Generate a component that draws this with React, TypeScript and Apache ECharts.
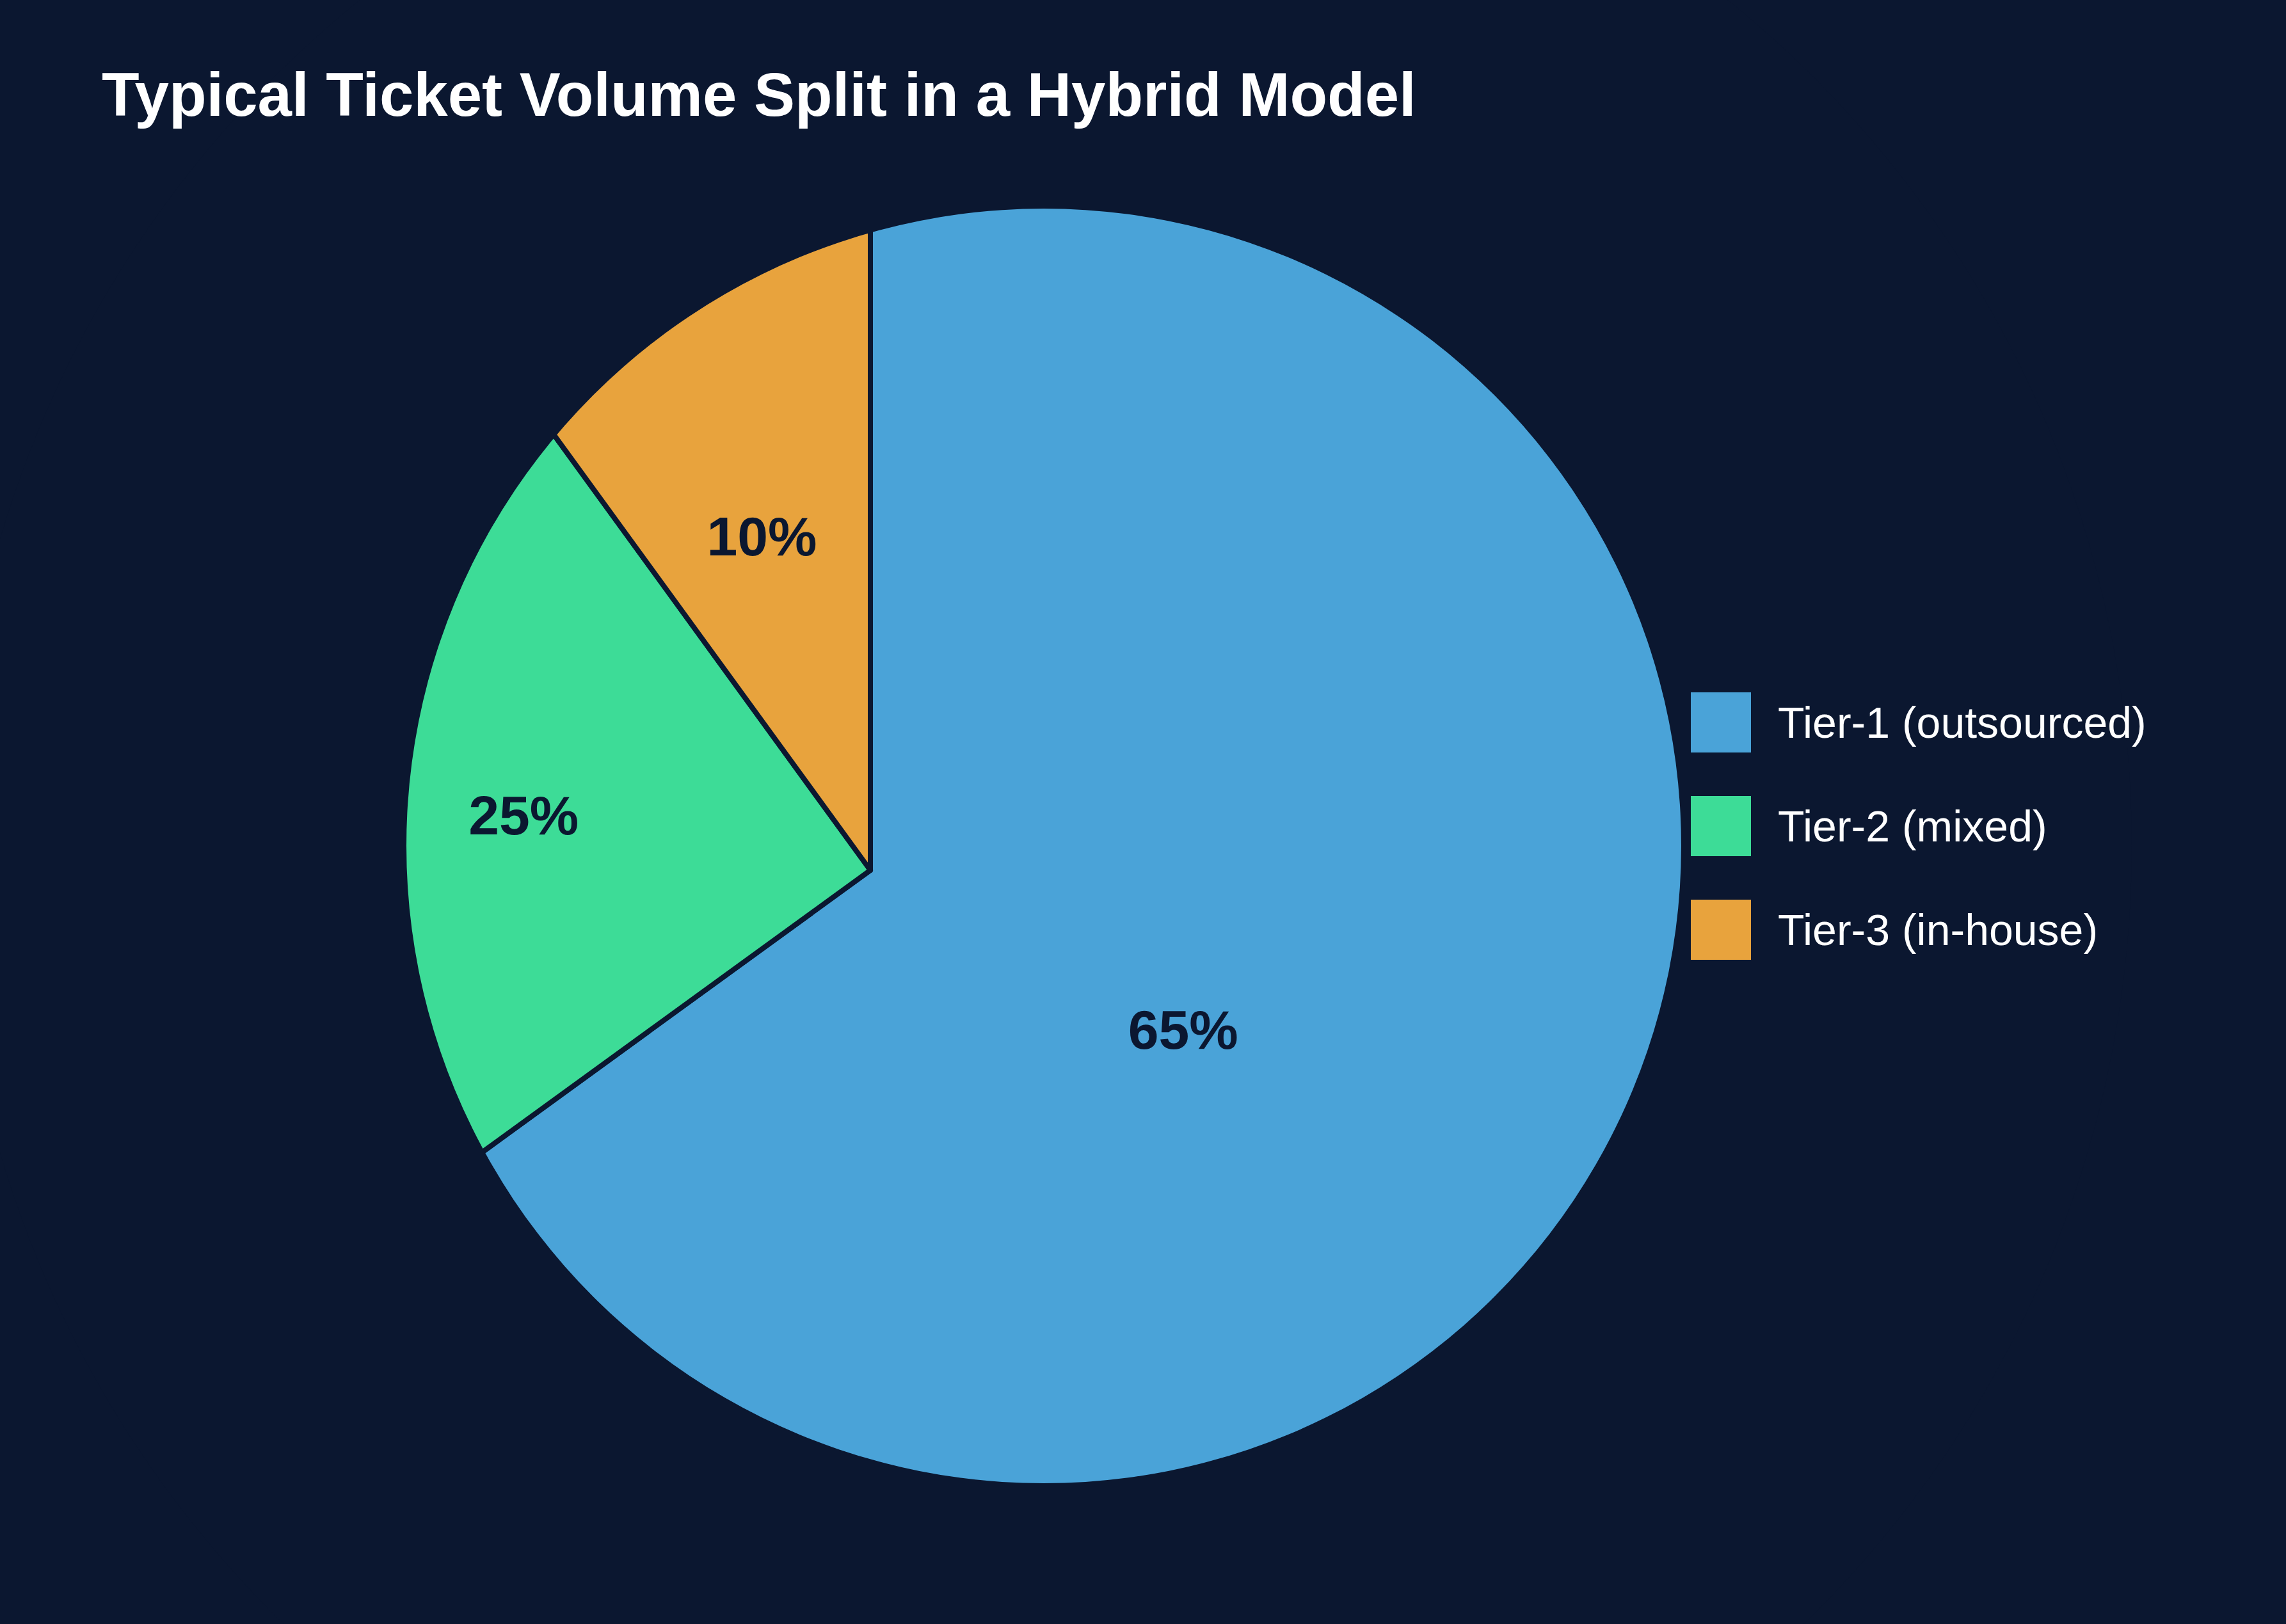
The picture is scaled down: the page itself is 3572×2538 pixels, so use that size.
import React, { useEffect, useRef } from "react";
import * as echarts from "echarts";

const categories = ["Tier-1 (outsourced)", "Tier-2 (mixed)", "Tier-3 (in-house)"];
const shares = [65, 25, 10];
const colors = ["#4aa3d8", "#3ddc97", "#e8a33d"];
const titleText = "Typical Ticket Volume Split in a Hybrid Model";

const BG = "#0b1730";
const W = 3572;
const H = 2538;
const PIE_CENTER = [1360, 1360];
const DISK_CENTER = [1631, 1322];
const DISK_R = 996;

export default function App() {
  const ref = useRef<HTMLDivElement>(null);

  useEffect(() => {
    if (!ref.current) return;
    const chart = echarts.init(ref.current, undefined, { renderer: "svg" });
    const font = "'Liberation Sans', Arial, Helvetica, sans-serif";
    chart.setOption({
      animation: false,
      backgroundColor: BG,
      title: {
        text: titleText,
        left: 159,
        top: 99,
        padding: 0,
        z: 6,
        textStyle: { color: "#ffffff", fontSize: 96, fontWeight: "bold", fontFamily: font },
      },
      legend: {
        orient: "vertical",
        left: 2640,
        top: 1080,
        padding: 0,
        itemWidth: 96,
        itemHeight: 96,
        itemGap: 64,
        icon: "rect",
        selectedMode: false,
        z: 6,
        data: categories,
        textStyle: { color: "#ffffff", fontSize: 68, fontFamily: font, padding: [0, 0, 0, 36] },
      },
      graphic: {
        elements: [
          {
            type: "ring",
            z: 3,
            silent: true,
            shape: { cx: DISK_CENTER[0], cy: DISK_CENTER[1], r0: DISK_R, r: 1700 },
            style: { fill: BG },
          },
        ],
      },
      series: [
        {
          type: "pie",
          z: 2,
          silent: true,
          center: PIE_CENTER,
          radius: 1300,
          startAngle: 90,
          clockwise: true,
          avoidLabelOverlap: false,
          itemStyle: { borderColor: BG, borderWidth: 8 },
          label: {
            show: true,
            position: "inside",
            color: BG,
            fontSize: 86,
            fontWeight: "bold",
            fontFamily: font,
            formatter: (p: any) => `${Math.round(p.percent)}%`,
          },
          labelLayout: (p: any) => {
            const r = p.labelRect;
            const cx = r.x + r.width / 2;
            const cy = r.y + r.height / 2;
            const k = 0.84;
            return {
              x: PIE_CENTER[0] + (cx - PIE_CENTER[0]) * k,
              y: PIE_CENTER[1] + (cy - PIE_CENTER[1]) * k,
              align: "center",
              verticalAlign: "middle",
            };
          },
          data: categories.map((name, i) => ({
            name,
            value: shares[i],
            itemStyle: { color: colors[i] },
          })),
        },
      ],
    });
    return () => chart.dispose();
  }, []);

  return (
    <div
      ref={ref}
      style={{ position: "fixed", left: 0, top: 0, width: W, height: H, background: BG }}
    />
  );
}
